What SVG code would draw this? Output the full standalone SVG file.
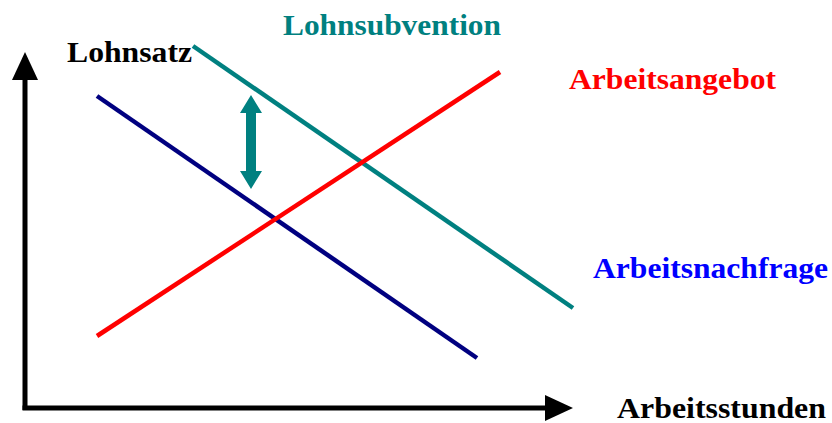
<svg xmlns="http://www.w3.org/2000/svg" width="832" height="423" viewBox="0 0 832 423">
<style>
.lbl{font-family:"Liberation Serif","Times New Roman",serif;font-weight:bold;font-size:29px}
.ax{stroke:#000;stroke-width:5;fill:none}
.crv{stroke-width:4.5;fill:none;stroke-linecap:butt}
</style>
<rect width="832" height="423" fill="#fff"/>
<g id="axes">
<line class="ax" x1="25" y1="76" x2="25" y2="410"/>
<polygon points="25,52 12,80 38,80" fill="#000"/>
<line class="ax" x1="22.5" y1="408" x2="548" y2="408"/>
<polygon points="573,408 545,395 545,421" fill="#000"/>
</g>
<g id="connectors">
<line id="lohnsubvention-line" class="crv" stroke="#008080" x1="193" y1="46" x2="573" y2="308"/>
<line id="nachfrage-line" class="crv" stroke="#000080" x1="97" y1="96" x2="477" y2="358"/>
<line id="angebot-line" class="crv" stroke="#ff0000" x1="97" y1="336" x2="500" y2="72"/>
<polygon id="subsidy-arrow" fill="#008080" points="251,95 262,113 256,113 256,171 262,171 251,189 240,171 246,171 246,113 240,113"/>
</g>
<g id="lohnsatz"><text class="lbl" x="67" y="62" fill="#000" textLength="125" lengthAdjust="spacingAndGlyphs">Lohnsatz</text></g>
<g id="lohnsubvention"><text class="lbl" x="283" y="35" fill="#008080" textLength="218" lengthAdjust="spacingAndGlyphs">Lohnsubvention</text></g>
<g id="arbeitsangebot"><text class="lbl" x="569" y="89" fill="#ff0000" textLength="207" lengthAdjust="spacingAndGlyphs">Arbeitsangebot</text></g>
<g id="arbeitsnachfrage"><text class="lbl" x="593" y="278" fill="#0000ff" textLength="235" lengthAdjust="spacingAndGlyphs">Arbeitsnachfrage</text></g>
<g id="arbeitsstunden"><text class="lbl" x="617" y="418" fill="#000" textLength="209" lengthAdjust="spacingAndGlyphs">Arbeitsstunden</text></g>
</svg>
